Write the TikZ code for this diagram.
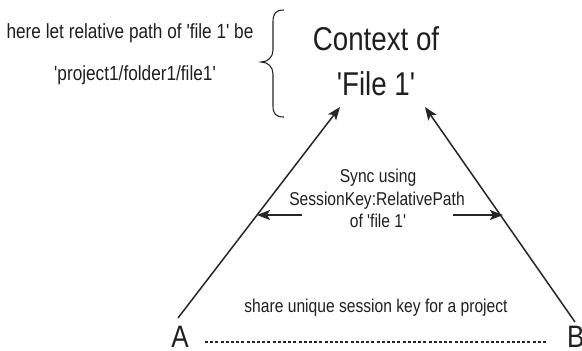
\documentclass[tikz,border=0pt]{standalone}
\usepackage{fontspec}
\setmainfont{Liberation Sans}[FakeStretch=0.84, Ligatures=TeXOff]
\usetikzlibrary{arrows.meta}
\tikzset{
  lbl/.style={anchor=base, inner sep=0pt, text=black!88},
  conn/.style={draw=black!85, line width=1.5pt},
  tip/.style={-{Stealth[length=13pt,width=10pt,inset=3pt]}},
}
\begin{document}
\begin{tikzpicture}[x=1pt,y=-1pt]
\useasboundingbox (0,0) rectangle (582,351);
% texts
\node[lbl, font=\fontsize{20.5}{24}\selectfont] (note1) at (130,38) {here let relative path of 'file 1' be};
\node[lbl, font=\fontsize{20.5}{24}\selectfont] (note2) at (135,80) {'project1/folder1/file1'};
\node[lbl, font=\fontsize{33}{36}\selectfont] (ctx1) at (376,50) {Context of};
\node[lbl, font=\fontsize{33}{36}\selectfont] (ctx2) at (376,95) {'File 1'};
\node[lbl, font=\fontsize{18.6}{22}\selectfont] (sync1) at (378,182) {Sync using};
\node[lbl, font=\fontsize{18.6}{22}\selectfont] (sync2) at (377,205) {SessionKey:RelativePath};
\node[lbl, font=\fontsize{18.6}{22}\selectfont] (sync3) at (378,227) {of 'file 1'};
\node[lbl, font=\fontsize{18.6}{22}\selectfont] (share) at (376,312) {share unique session key for a project};
\node[lbl, font=\fontsize{31}{34}\selectfont] (A) at (180,347) {A};
\node[lbl, anchor=base west, font=\fontsize{31}{34}\selectfont] (B) at (567,347) {B};
% brace
\draw[conn, line width=1.1pt] (284,10) .. controls (276,10) and (273,13) .. (273,22) -- (273,50)
  .. controls (273,57) and (268,62) .. (261,62)
  .. controls (268,62) and (273,67) .. (273,74) -- (273,106)
  .. controls (273,114) and (276,117) .. (284,117);
% triangle sides
\coordinate (Atop) at (178,318);
\coordinate (Btop) at (575,322);
\coordinate (ctxL) at (340,107);
\coordinate (ctxR) at (425,107);
\draw[conn, tip] (Atop) -- (ctxL);
\draw[conn, tip] (Btop) -- (ctxR);
% sync arrows
\coordinate (sL0) at (302,215);
\coordinate (sL1) at (257,215);
\coordinate (sR0) at (453,215);
\coordinate (sR1) at (503,215);
\draw[conn, tip] (sL0) -- (sL1);
\draw[conn, tip] (sR0) -- (sR1);
% dashed line
\coordinate (d0) at (205,342);
\coordinate (d1) at (547,342);
\draw[conn, line width=1.1pt, dash pattern=on 3pt off 2.2pt] (d0) -- (d1);
\end{tikzpicture}
\end{document}
